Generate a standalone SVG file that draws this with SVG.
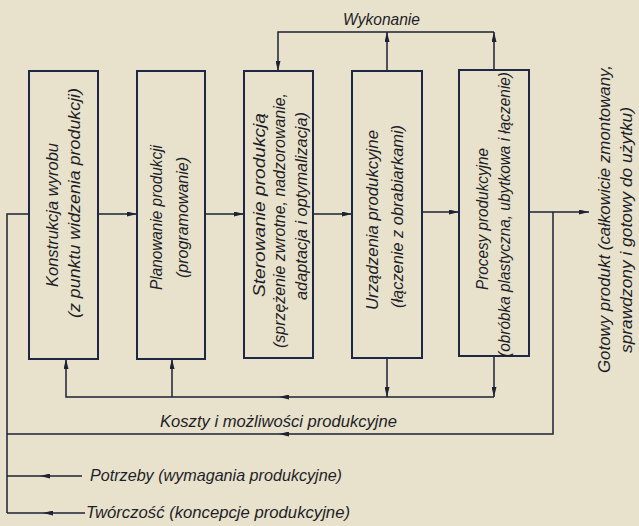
<svg xmlns="http://www.w3.org/2000/svg" width="639" height="526" viewBox="0 0 639 526">
<style>
.bg{fill:#e8e2cc}
.box{fill:none;stroke:#1e2846;stroke-width:2}
.ln{fill:none;stroke:#1d2235;stroke-width:1.5}
.t{font-family:"Liberation Sans","DejaVu Sans",sans-serif;font-style:italic;font-size:17px;fill:#1e1e28}
</style>
<defs>
<marker id="ah" viewBox="0 0 10 5" refX="10" refY="2.5" markerWidth="10" markerHeight="5" markerUnits="userSpaceOnUse" orient="auto">
<path d="M0,0 L10,2.5 L0,5 z" fill="#1d2235"/>
</marker>
</defs>
<rect class="bg" x="0" y="0" width="639" height="526"/>

<g id="connectors">
<path class="ln" d="M98,214 H137" marker-end="url(#ah)"/>
<path class="ln" d="M205,214 H244" marker-end="url(#ah)"/>
<path class="ln" d="M313,214 H352" marker-end="url(#ah)"/>
<path class="ln" d="M422,212 H459" marker-end="url(#ah)"/>
<path class="ln" d="M529,212 H589" marker-end="url(#ah)"/>
<path class="ln" d="M387,71 V32" marker-end="url(#ah)"/>
<path class="ln" d="M494,70 V32" marker-end="url(#ah)"/>
<path class="ln" d="M494,32 H278 V71" marker-end="url(#ah)"/>
<path class="ln" d="M387,358 V397" marker-end="url(#ah)"/>
<path class="ln" d="M494,356 V397" marker-end="url(#ah)"/>
<path class="ln" d="M494,397 H279" marker-end="url(#ah)"/>
<path class="ln" d="M279,397 H66 V359" marker-end="url(#ah)"/>
<path class="ln" d="M172,397 V359" marker-end="url(#ah)"/>
<path class="ln" d="M553,212 V434 H279" marker-end="url(#ah)"/>
<path class="ln" d="M279,434 H7"/>
<path class="ln" d="M29,214 H7 V513"/>
<path class="ln" d="M82,476 H40" marker-end="url(#ah)"/>
<path class="ln" d="M40,476 H7"/>
<path class="ln" d="M85,513 H43" marker-end="url(#ah)"/>
<path class="ln" d="M43,513 H7"/>
</g>

<g id="konstrukcja">
<rect class="box" x="29" y="71" width="69" height="288"/>
<text class="t" transform="translate(58,287) rotate(-90)" textLength="144" lengthAdjust="spacingAndGlyphs">Konstrukcja wyrobu</text>
<text class="t" transform="translate(80,318) rotate(-90)" textLength="230" lengthAdjust="spacingAndGlyphs">(z punktu widzenia produkcji)</text>
</g>

<g id="planowanie">
<rect class="box" x="137" y="71" width="68" height="288"/>
<text class="t" transform="translate(162,290) rotate(-90)" textLength="145" lengthAdjust="spacingAndGlyphs">Planowanie produkcji</text>
<text class="t" transform="translate(188,278) rotate(-90)" textLength="121" lengthAdjust="spacingAndGlyphs">(programowanie)</text>
</g>

<g id="sterowanie">
<rect class="box" x="244" y="71" width="69" height="287"/>
<text class="t" transform="translate(265,297) rotate(-90)" textLength="184" lengthAdjust="spacingAndGlyphs">Sterowanie produkcją</text>
<text class="t" transform="translate(285,348) rotate(-90)" textLength="255" lengthAdjust="spacingAndGlyphs">(sprzężenie zwrotne, nadzorowanie,</text>
<text class="t" transform="translate(307,300) rotate(-90)" textLength="188" lengthAdjust="spacingAndGlyphs">adaptacja i optymalizacja)</text>
</g>

<g id="urzadzenia">
<rect class="box" x="352" y="71" width="70" height="287"/>
<text class="t" transform="translate(378,310) rotate(-90)" textLength="180" lengthAdjust="spacingAndGlyphs">Urządzenia produkcyjne</text>
<text class="t" transform="translate(403,308) rotate(-90)" textLength="183" lengthAdjust="spacingAndGlyphs">(łączenie z obrabiarkami)</text>
</g>

<g id="procesy">
<rect class="box" x="459" y="70" width="70" height="286"/>
<text class="t" transform="translate(488,290) rotate(-90)" textLength="142" lengthAdjust="spacingAndGlyphs">Procesy produkcyjne</text>
<text class="t" transform="translate(510,357) rotate(-90)" textLength="285" lengthAdjust="spacingAndGlyphs">(obróbka plastyczna, ubytkowa i łączenie)</text>
</g>

<g id="gotowy">
<text class="t" transform="translate(610,373) rotate(-90)" textLength="308" lengthAdjust="spacingAndGlyphs">Gotowy produkt (całkowicie zmontowany,</text>
<text class="t" transform="translate(632,353) rotate(-90)" textLength="246" lengthAdjust="spacingAndGlyphs">sprawdzony i gotowy do użytku)</text>
</g>

<g id="wykonanie">
<text class="t" x="343" y="25" textLength="77" lengthAdjust="spacingAndGlyphs">Wykonanie</text>
</g>
<g id="koszty">
<text class="t" x="160" y="427" textLength="237" lengthAdjust="spacingAndGlyphs">Koszty i możliwości produkcyjne</text>
</g>
<g id="potrzeby">
<text class="t" x="90" y="481" textLength="252" lengthAdjust="spacingAndGlyphs">Potrzeby (wymagania produkcyjne)</text>
</g>
<g id="tworczosc">
<text class="t" x="86" y="518" textLength="264" lengthAdjust="spacingAndGlyphs">Twórczość (koncepcje produkcyjne)</text>
</g>
</svg>
